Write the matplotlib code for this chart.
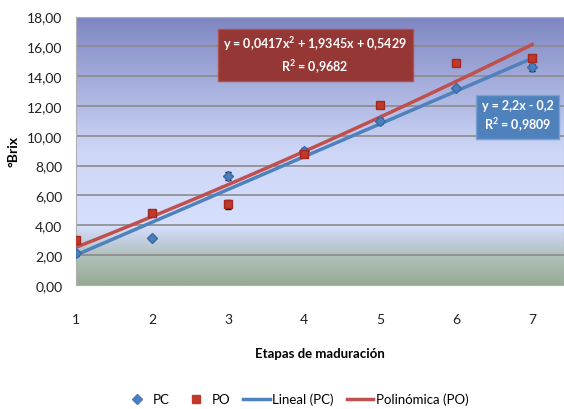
import numpy as np
import matplotlib.pyplot as plt
from matplotlib.colors import LinearSegmentedColormap
from matplotlib.lines import Line2D

# datos
etapas = [1, 2, 3, 4, 5, 6, 7]
pc = [2.1, 3.15, 7.3, 9.0, 11.0, 13.2, 14.6]
po = [3.0, 4.85, 5.4, 8.8, 12.05, 14.9, 15.25]
err_pc = [0.15, 0.15, 0.3, 0.2, 0.2, 0.15, 0.25]
err_po = [0.15, 0.15, 0.3, 0.15, 0.2, 0.15, 0.2]

# coeficientes de las lineas de tendencia
coef_lineal = [2.2, -0.2]
coef_poli = [0.0417, 1.9345, 0.5429]

yticks = [0, 2, 4, 6, 8, 10, 12, 14, 16, 18]

plt.rcParams['font.family'] = ['Lato', 'DejaVu Sans']
plt.rcParams['mathtext.fontset'] = 'custom'
plt.rcParams['mathtext.rm'] = 'Lato'
plt.rcParams['mathtext.bf'] = 'Lato:bold'

fig = plt.figure(figsize=(5.64, 4.10), dpi=100)
ax = fig.add_axes([0.135, 0.303, 0.865, 0.654])

ax.set_xlim(1, 7.42)
ax.set_ylim(0, 18)

# fondo degradado
cmap = LinearSegmentedColormap.from_list(
    "fondo",
    [(0.0, "#97ab96"), (0.1, "#aebfb6"), (0.17, "#c4d0e4"), (0.22, "#d6dffc"),
     (0.5, "#cdd6f6"), (1.0, "#7e86c2")])
grad = np.linspace(0, 1, 256).reshape(-1, 1)
ax.imshow(grad, cmap=cmap, aspect="auto", origin="lower",
          extent=[1, 7.42, 0, 18], zorder=0)

for y in yticks[1:-1]:
    ax.axhline(y, color="#8c8c8c", lw=1.2, zorder=1)

xs = np.linspace(1, 7, 50)
ax.plot(xs, np.polyval(coef_lineal, xs), color="#4f81bd", lw=2.5, zorder=3)
ax.plot(xs, np.polyval(coef_poli, xs), color="#c0504d", lw=2.5, zorder=3)

ax.errorbar(etapas, pc, yerr=err_pc, fmt="D", color="#4a7ebb", ms=5,
            ecolor="black", elinewidth=1, capsize=2.5, zorder=4,
            markeredgecolor="#3a6aa5")
ax.errorbar(etapas, po, yerr=err_po, fmt="s", color="#c0392b", ms=6,
            ecolor="black", elinewidth=1, capsize=2.5, zorder=4,
            markeredgecolor="#a02820")

ax.set_xticks(etapas)
ax.set_yticks(yticks)
ax.set_yticklabels([f"{v:.2f}".replace(".", ",") for v in yticks])
ax.tick_params(length=0, labelsize=10, pad=10, labelcolor="#202020")
ax.tick_params(axis="x", pad=20)
for s in ax.spines.values():
    s.set_color("#b0b0b0")

ax.set_xlabel("Etapas de maduración", fontsize=9.5, fontweight="bold", labelpad=16)
ax.set_ylabel("°Brix", fontsize=10, fontweight="bold", labelpad=5)

ax.text(0.49, 0.858, "y = 0,0417x$^\\mathbf{2}$ + 1,9345x + 0,5429\nR$^\\mathbf{2}$ = 0,9682",
        transform=ax.transAxes, ha="center", va="center", color="white",
        fontsize=9, fontweight="bold", linespacing=1.35, zorder=5,
        bbox=dict(boxstyle="square,pad=0.45", fc="#953735", ec="#b05050"))
ax.text(0.905, 0.63, "y = 2,2x - 0,2\nR$^\\mathbf{2}$ = 0,9809",
        transform=ax.transAxes, ha="center", va="center", color="white",
        fontsize=9, fontweight="bold", linespacing=1.35, zorder=5,
        bbox=dict(boxstyle="square,pad=0.45", fc="#4f81bd", ec="#7aa0d0"))

handles = [
    Line2D([], [], ls="none", marker="D", ms=5, color="#4a7ebb"),
    Line2D([], [], ls="none", marker="s", ms=6, color="#c0392b"),
    Line2D([], [], color="#4f81bd", lw=2.5),
    Line2D([], [], color="#c0504d", lw=2.5),
]
labels = ["PC", "PO", "Lineal (PC)", "Polinómica (PO)"]
fig.legend(handles, labels, loc="lower center",
           ncol=4, frameon=False, fontsize=9.5, bbox_to_anchor=(0.525, -0.02),
           handlelength=2.0, columnspacing=1.0, handletextpad=0.2)

fig.savefig("out.png", dpi=100)
